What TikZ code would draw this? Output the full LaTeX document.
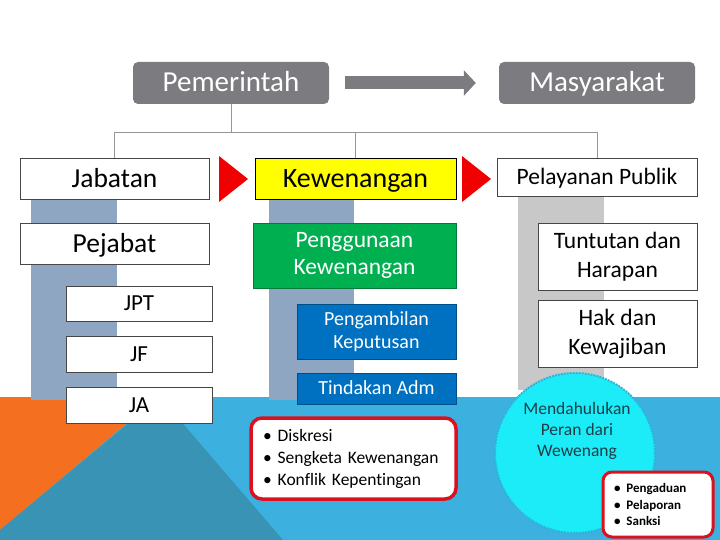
\documentclass[tikz,border=0pt]{standalone}
\usepackage{fontspec}
\setmainfont{Carlito}[Ligatures=CommonOff]
\usepackage{xcolor}
\usetikzlibrary{arrows.meta}

\definecolor{hdrgray}{RGB}{124,124,128}
\definecolor{slate}{RGB}{143,166,194}
\definecolor{lightcol}{RGB}{200,200,200}
\definecolor{boxline}{RGB}{70,70,70}
\definecolor{treeline}{RGB}{150,150,150}
\definecolor{kuning}{RGB}{255,255,0}
\definecolor{hijau}{RGB}{0,176,80}
\definecolor{biru}{RGB}{0,112,192}
\definecolor{merah}{RGB}{240,0,0}
\definecolor{redline}{RGB}{220,16,30}
\definecolor{bandblue}{RGB}{60,176,222}
\definecolor{bandteal}{RGB}{57,147,180}
\definecolor{bandorange}{RGB}{244,112,32}
\definecolor{bubble}{RGB}{28,236,248}
\definecolor{bubbleline}{RGB}{44,181,218}
\definecolor{bubbletext}{RGB}{28,62,72}

\begin{document}
\begin{tikzpicture}[x=1pt,y=-1pt,
		big/.style={font=\fontsize{28}{32}\selectfont,text height=23pt,text depth=5pt},
		mid/.style={font=\fontsize{23}{26}\selectfont,text height=18.9pt,text depth=4.1pt},
		hdr/.style={fill=hdrgray,rounded corners=5pt,text=white,inner sep=0pt,minimum width=196,minimum height=42},
		box/.style={draw=boxline,fill=white,line width=0.8pt,inner sep=0pt},
		colorbox/.style={inner sep=0pt,align=center,text=white},
		redbox/.style={draw=redline,fill=white,line width=3.5pt,rounded corners=11pt,align=left}]
			\useasboundingbox (0,0) rectangle (720,540);

			% Background band
			\fill[bandblue] (0,397) rectangle (720,540);
			\fill[bandorange] (0,397) -- (158,397) -- (0,530) -- cycle;
			\fill[bandteal] (160,397) -- (283,540) -- (0,540) -- (0,530) -- cycle;

			% Columns
			\fill[slate] (31,199) rectangle (117,400);
			\fill[slate] (269,199) rectangle (354,400);
			\fill[lightcol] (518,196) rectangle (604,390);

			% Top
			\node[hdr, big, font=\fontsize{29}{32}\selectfont] (pem) at (231,83) {Pemerintah};
			\node[hdr, big, font=\fontsize{29}{32}\selectfont] (mas) at (597,83) {Masyarakat};
			\draw[hdrgray, line width=13pt, -{Triangle[length=12pt,width=25pt]}] ([xshift=16pt]pem.east) -- ([xshift=-23pt]mas.west);

			% Left branch
			\node[box, big, font=\fontsize{27.5}{30}\selectfont, minimum width=189, minimum height=41] (jab) at (114.5,178.5) {Jabatan};
			\node[box, big, font=\fontsize{27.5}{30}\selectfont, minimum width=189, minimum height=41] (pej) at (114.5,243.5) {Pejabat};
			\node[box, mid, minimum width=146, minimum height=35] (jpt) at (139,303.5) {JPT};
			\node[box, mid, minimum width=146, minimum height=36] (jf) at (139,354) {JF};
			\node[box, mid, minimum width=146, minimum height=36] (ja) at (139,405) {JA};

			% Middle branch
			\node[box, big, draw=black, fill=kuning, minimum width=201, minimum height=41] (kew) at (355.5,178.5) {Kewenangan};
			\node[colorbox, fill=hijau, draw=hijau!70!black, minimum width=203, minimum height=65, font=\fontsize{23.5}{27}\selectfont] (guna) at (354.5,255.5) {Penggunaan\\Kewenangan};
			\node[colorbox, fill=biru, draw=biru!70!black, minimum width=159, minimum height=55, font=\fontsize{20}{23.5}\selectfont] (ambil) at (376.5,331.5) {Pengambilan\\Keputusan};
			\node[colorbox, fill=biru, draw=biru!70!black, minimum width=159, minimum height=31, font=\fontsize{20}{23}\selectfont, text height=16.4pt, text depth=3.6pt] (tindak) at (376.5,388.5) {Tindakan Adm};
			\node[redbox, text width=181pt, inner xsep=12pt, minimum height=81, font=\fontsize{17.5}{22}\selectfont] (isu) at (353.5,458.5)
				{•\hspace{6pt}Diskresi\\•\hspace{6pt}Sengketa Kewenangan\\•\hspace{6pt}Konflik Kepentingan};

			% Right branch
			\node[box, mid, font=\fontsize{23.5}{26}\selectfont, minimum width=200, minimum height=38] (pel) at (597,177) {Pelayanan Publik};
			\node[box, align=center, minimum width=159, minimum height=67, font=\fontsize{23.5}{29}\selectfont] (tuntut) at (617.5,256.5) {Tuntutan dan\\Harapan};
			\node[box, align=center, minimum width=159, minimum height=67, font=\fontsize{23.5}{29}\selectfont] (hak) at (617.5,333.5) {Hak dan\\Kewajiban};

			% Tree lines
			\coordinate (bus) at (0,132);
			\draw[treeline, line width=0.9pt] (pem.south) -- (pem.south |- bus);
			\draw[treeline, line width=0.9pt] (jab.north) -- (jab.north |- bus) -| (pel.north);
			\draw[treeline, line width=0.9pt] (kew.north) -- (kew.north |- bus);

			% Red triangles
			\fill[merah] (219,156) -- (248,179) -- (219,202) -- cycle;
			\fill[merah] (462,156) -- (491,179) -- (462,202) -- cycle;

			% Bubble
			\node[circle, fill=bubble, draw=bubbleline, line width=2pt, densely dotted, minimum size=160, inner sep=0pt] (circ) at (575,453) {};
			\node[align=center, text=bubbletext, font=\fontsize{17.5}{21}\selectfont] (peran) at ([xshift=2pt,yshift=22pt]circ.center) {Mendahulukan\\Peran\hspace{4pt}dari\\Wewenang};
			\node[redbox, line width=3pt, rounded corners=9pt, text width=88pt, inner xsep=11pt, minimum height=65, font=\bfseries\fontsize{13}{16.5}\selectfont] (awas) at (658,504.5)
				{•\hspace{6pt}Pengaduan\\•\hspace{6pt}Pelaporan\\•\hspace{6pt}Sanksi};
		\end{tikzpicture}
\end{document}
